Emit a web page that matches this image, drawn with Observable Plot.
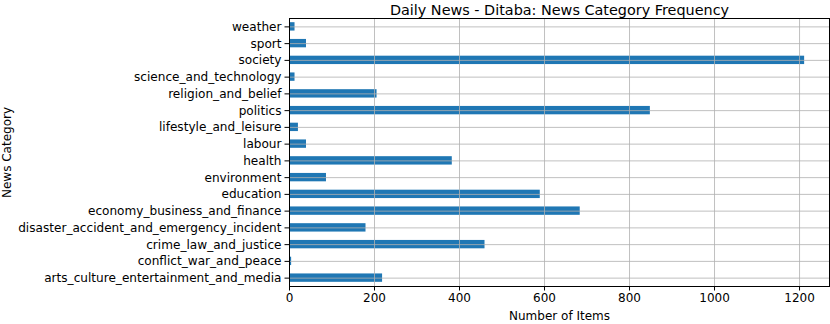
<!DOCTYPE html>
<html><head><meta charset="utf-8">
<script src="https://cdn.jsdelivr.net/npm/d3@7"></script>
<script src="https://cdn.jsdelivr.net/npm/@observablehq/plot@0.6"></script>
<style>
body{margin:0;background:#fff;}
#chart svg{font-family:"DejaVu Sans",sans-serif;}
</style>
</head><body><div id="chart"></div>
<script>
const categories = ["weather","sport","society","science_and_technology","religion_and_belief","politics","lifestyle_and_leisure","labour","health","environment","education","economy_business_and_finance","disaster_accident_and_emergency_incident","crime_law_and_justice","conflict_war_and_peace","arts_culture_entertainment_and_media"];
const counts = [13,40,1212,13,206,849,21,40,383,87,590,684,180,460,5,219];
const xTicks = [0,200,400,600,800,1000,1200];
const title = "Daily News - Ditaba: News Category Frequency";
const xLabel = "Number of Items";
const yLabel = "News Category";

const data = categories.map((c,i)=>({category:c,count:counts[i]}));

const chart = Plot.plot({
  width: 830, height: 324,
  marginLeft: 289, marginRight: 1, marginTop: 18, marginBottom: 38,
  style: {fontFamily: "DejaVu Sans, sans-serif", fontSize: "12px", color: "#000", background: "#fff"},
  x: {domain: [0, 1270.5], ticks: xTicks, label: null},
  y: {domain: categories, paddingInner: 0.5, paddingOuter: 0.25, round: false, label: null},
  marks: [
    Plot.barX(data, {x: "count", y: "category", fill: "#1f77b4"}),
    Plot.gridX(xTicks, {stroke: "#b0b0b0", strokeOpacity: 0.8, strokeWidth: 1}),
    Plot.gridY(categories, {stroke: "#b0b0b0", strokeOpacity: 0.8, strokeWidth: 1}),
    Plot.frame({stroke: "#000", strokeWidth: 1}),
    Plot.axisX(xTicks, {tickSize: 4.5, tickPadding: 2, fontSize: "12px", fill: "#000", stroke: "#000", tickFormat: d3.format("d")}),
    Plot.axisY(categories, {tickSize: 4.5, tickPadding: 3.5, fontSize: "12.1px", fill: "#000", stroke: "#000"}),
    Plot.text([title], {frameAnchor: "top", lineAnchor: "bottom", dy: -4, fontSize: "14.4px", fill: "#000", text: d=>d}),
    Plot.text([xLabel], {frameAnchor: "bottom", lineAnchor: "middle", textAnchor: "middle", dy: 30, fontSize: "12px", fill: "#000", text: d=>d}),
    Plot.text([yLabel], {frameAnchor: "left", lineAnchor: "middle", textAnchor: "middle", dx: -282, rotate: -90, fontSize: "12px", fill: "#000", text: d=>d})
  ]
});
document.getElementById("chart").appendChild(chart);
</script>
</body></html>
